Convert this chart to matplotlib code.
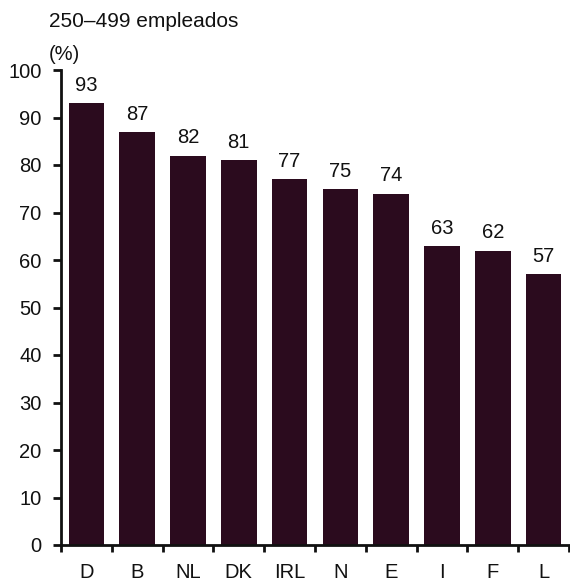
import matplotlib
matplotlib.use("Agg")
import matplotlib.pyplot as plt
import numpy as np

plt.rcParams['font.family'] = ['Liberation Sans', 'DejaVu Sans']

countries = ["D", "B", "NL", "DK", "IRL", "N", "E", "I", "F", "L"]
values = [93, 87, 82, 81, 77, 75, 74, 63, 62, 57]
yticks = [0, 10, 20, 30, 40, 50, 60, 70, 80, 90, 100]

W, H = 570, 583
FS = 14.5
fig = plt.figure(figsize=(W / 100, H / 100), dpi=100)
ax = fig.add_axes([61 / W, 38 / H, 508 / W, 475 / H])

x = np.arange(len(countries))
bar_color = "#2b0b1e"
ax.bar(x, values, width=0.70, color=bar_color, align="center")

for xi, v in zip(x, values):
    ax.text(xi, v + 1.7, str(v), ha="center", va="bottom", fontsize=FS, color="#111111")

ax.set_xlim(-0.5, len(countries) - 0.5)
ax.set_ylim(0, 100)

ax.set_yticks(yticks)
ax.set_yticklabels([str(t) for t in yticks], fontsize=FS)
ax.tick_params(axis="y", direction="out", length=6, width=2, pad=8, colors="#111111")

# category boundary ticks on the x axis, labels centred under each bar
ax.set_xticks(np.arange(len(countries) + 1) - 0.5)
ax.set_xticklabels([""] * (len(countries) + 1))
ax.set_xticks(x, minor=True)
ax.set_xticklabels(countries, minor=True, fontsize=FS)
ax.tick_params(axis="x", which="major", direction="out", length=5, width=2, colors="#111111")
ax.tick_params(axis="x", which="minor", length=0, pad=13, colors="#111111")

for side in ("top", "right"):
    ax.spines[side].set_visible(False)
for side in ("left", "bottom"):
    ax.spines[side].set_linewidth(2)
    ax.spines[side].set_color("#111111")

fig.text(49 / W, 1 - 21.5 / H, "250–499 empleados", fontsize=FS + 0.5, ha="left", va="center", color="#111111")
fig.text(49 / W, 1 - 55 / H, "(%)", fontsize=FS, ha="left", va="center", color="#111111")

fig.savefig("out.png", dpi=100)
